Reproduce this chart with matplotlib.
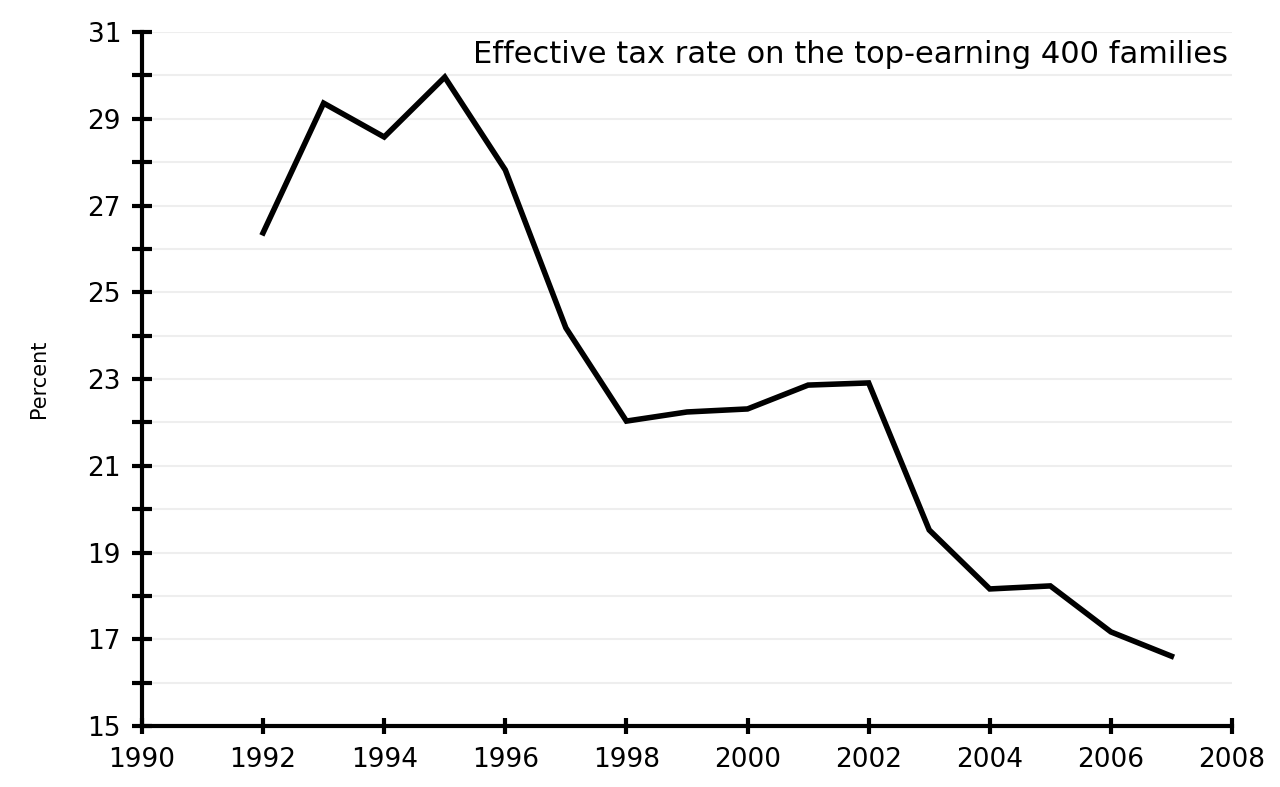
import numpy as np
import matplotlib
matplotlib.use("Agg")
import matplotlib.pyplot as plt

years = [1992, 1993, 1994, 1995, 1996, 1997, 1998, 1999, 2000,
         2001, 2002, 2003, 2004, 2005, 2006, 2007]
rate = [26.37, 29.36, 28.58, 29.96, 27.82, 24.18, 22.03, 22.24, 22.31,
        22.86, 22.91, 19.52, 18.16, 18.23, 17.17, 16.61]

title = 'Effective tax rate on the top-earning 400 families'
ylab = 'Percent'

fig = plt.figure(figsize=(12.8, 7.87), dpi=100)
ax = fig.add_axes([0.1109, 0.0775, 0.8516, 0.8818])

# light horizontal grid at every percent
for v in range(16, 32):
    ax.axhline(v, color='#eeeeee', lw=1.5, zorder=0)

ax.plot(years, rate, color='black', lw=4, solid_joinstyle='miter', zorder=3)

ax.set_xlim(1990, 2008)
ax.set_ylim(15, 31)
ax.set_xticks(np.arange(1990, 2009, 2))
ax.set_yticks(np.arange(15, 32, 2))
ax.set_yticks(np.arange(16, 31, 2), minor=True)

for s in ['top', 'right']:
    ax.spines[s].set_visible(False)
for s in ['left', 'bottom']:
    ax.spines[s].set_linewidth(3)

ax.tick_params(axis='both', which='both', direction='inout', width=3,
               labelsize=19, colors='black')
ax.tick_params(axis='y', which='both', length=14, pad=8)
ax.tick_params(axis='x', which='major', length=12, pad=9)

ax.set_ylabel(ylab, fontsize=15, labelpad=28)
ax.text(0.9965, 0.967, title, transform=ax.transAxes, ha='right', va='center',
        fontsize=22)

fig.savefig('out.png', dpi=100)
